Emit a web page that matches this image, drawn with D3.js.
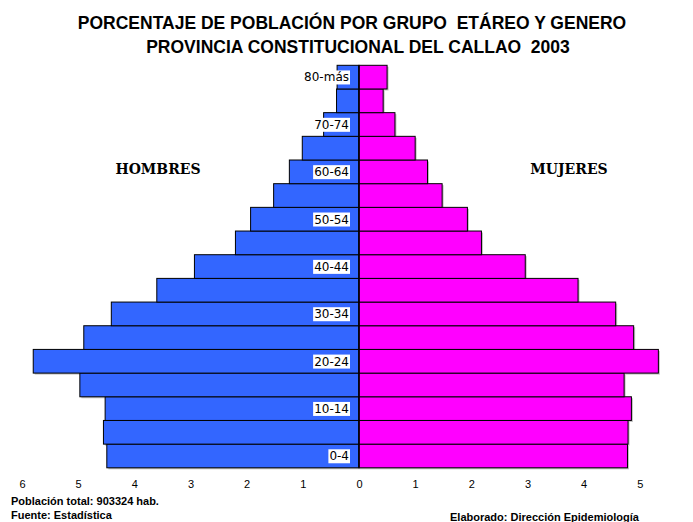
<!DOCTYPE html>
<html>
<head>
<meta charset="utf-8">
<script src="https://cdn.jsdelivr.net/npm/d3@7"></script>
<style>
  body { margin: 0; background: #fff; }
  svg { display: block; }
</style>
</head>
<body>
<div id="chart"></div>
<script>
// age groups, bottom to top
const ages = ["0-4", "5-9", "10-14", "15-19", "20-24", "25-29", "30-34", "35-39",
  "40-44", "45-49", "50-54", "55-59", "60-64", "65-69", "70-74", "75-79", "80-más"];
// percent of population
const hombres = [4.49, 4.55, 4.52, 4.97, 5.80, 4.90, 4.41, 3.60,
  2.93, 2.20, 1.93, 1.52, 1.24, 1.01, 0.63, 0.40, 0.39];
const mujeres = [4.78, 4.79, 4.85, 4.72, 5.33, 4.89, 4.57, 3.90,
  2.96, 2.18, 1.93, 1.48, 1.22, 1.00, 0.64, 0.43, 0.50];
const ticks = [-6, -5, -4, -3, -2, -1, 0, 1, 2, 3, 4, 5, 6];
// only every other group gets a label
const labeled = ["0-4", "10-14", "20-24", "30-34", "40-44", "50-54", "60-64", "70-74", "80-más"];

const width = 693, height = 522;

const svg = d3.select("#chart").append("svg")
  .attr("width", width)
  .attr("height", height);

const x = d3.scaleLinear().domain([-6, 6]).range([22, 696]);
const y = d3.scaleBand().domain(ages.slice().reverse()).range([65.3, 467.8]);

// title
const title = svg.append("g")
  .attr("font-family", "Liberation Sans, Arial, sans-serif")
  .attr("font-weight", "bold")
  .attr("font-size", 17.5)
  .attr("text-anchor", "middle");
title.append("text").attr("x", 352).attr("y", 29)
  .attr("xml:space", "preserve")
  .text("PORCENTAJE DE POBLACIÓN POR GRUPO  ETÁREO Y GENERO");
title.append("text").attr("x", 358).attr("y", 53)
  .attr("xml:space", "preserve")
  .text("PROVINCIA CONSTITUCIONAL DEL CALLAO  2003");

const rows = ages.map((a, i) => ({ age: a, h: hombres[i], m: mujeres[i] }));

// soft shadow behind bars
svg.append("g").attr("fill", "#999").attr("opacity", 0.6)
  .selectAll("rect")
  .data(rows)
  .join("rect")
  .attr("x", d => x(-d.h) + 1.5)
  .attr("y", d => y(d.age) + 1.5)
  .attr("width", d => x(d.m) - x(-d.h))
  .attr("height", y.bandwidth());

svg.append("g")
  .selectAll("rect")
  .data(rows)
  .join("rect")
  .attr("x", d => x(-d.h))
  .attr("y", d => y(d.age))
  .attr("width", d => x(0) - x(-d.h))
  .attr("height", y.bandwidth())
  .attr("fill", "#3366ff")
  .attr("stroke", "#000")
  .attr("stroke-width", 1);

svg.append("g")
  .selectAll("rect")
  .data(rows)
  .join("rect")
  .attr("x", x(0))
  .attr("y", d => y(d.age))
  .attr("width", d => x(d.m) - x(0))
  .attr("height", y.bandwidth())
  .attr("fill", "#ff00ff")
  .attr("stroke", "#000")
  .attr("stroke-width", 1);

// zero line
svg.append("line")
  .attr("x1", x(0)).attr("x2", x(0))
  .attr("y1", y.range()[0]).attr("y2", y.range()[1])
  .attr("stroke", "#000").attr("stroke-width", 1.5);

// age labels with white box
const lab = svg.append("g")
  .selectAll("g")
  .data(labeled)
  .join("g");
lab.append("text")
  .attr("x", x(0) - 10)
  .attr("y", d => y(d) + y.bandwidth() / 2)
  .attr("dy", "0.36em")
  .attr("text-anchor", "end")
  .attr("font-family", "DejaVu Sans, Verdana, sans-serif")
  .attr("font-size", 12)
  .attr("fill", "#000")
  .text(d => d);
lab.each(function () {
  const t = d3.select(this).select("text");
  const b = t.node().getBBox();
  d3.select(this).insert("rect", "text")
    .attr("x", b.x - 1).attr("y", b.y)
    .attr("width", b.width + 2).attr("height", b.height)
    .attr("fill", "#fff");
});

// axis
const axis = d3.axisBottom(x)
  .tickValues(ticks)
  .tickSize(0)
  .tickPadding(0)
  .tickFormat(d => Math.abs(d));
const gx = svg.append("g")
  .attr("transform", "translate(0,480)")
  .call(axis);
gx.select(".domain").remove();
gx.selectAll("text")
  .attr("font-family", "Liberation Sans, Arial, sans-serif")
  .attr("font-size", 11)
  .attr("fill", "#000");

// side labels
svg.append("g")
  .attr("font-family", "DejaVu Serif, Liberation Serif, serif")
  .attr("font-weight", "bold")
  .attr("font-size", 14)
  .attr("text-anchor", "middle")
  .selectAll("text")
  .data([["HOMBRES", 158], ["MUJERES", 569]])
  .join("text")
  .attr("x", d => d[1])
  .attr("y", 174)
  .text(d => d[0]);

// notes
const notes = svg.append("g")
  .attr("font-family", "Liberation Sans, Arial, sans-serif")
  .attr("font-weight", "bold")
  .attr("font-size", 11);
notes.append("text").attr("x", 11).attr("y", 505).text("Población total: 903324 hab.");
notes.append("text").attr("x", 11).attr("y", 519).text("Fuente: Estadística");
notes.append("text").attr("x", 450).attr("y", 521).text("Elaborado: Dirección Epidemiología");
</script>
</body>
</html>
